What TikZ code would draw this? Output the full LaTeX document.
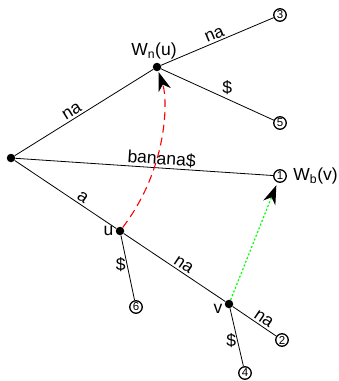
\documentclass[tikz,border=0pt]{standalone}
\usepackage{fontspec}
\setmainfont{Liberation Sans}
\usetikzlibrary{arrows.meta}
\begin{document}
\begin{tikzpicture}[x=1pt,y=-1pt,
  inner/.style={circle,fill=black,inner sep=0pt,minimum size=8.5pt},
  leaf/.style={circle,draw,line width=1.3pt,inner sep=0pt,minimum size=12.5pt,font=\fontsize{11.5}{11.5}\selectfont},
  edge/.style={line width=0.8pt},
  lbl/.style={font=\fontsize{17.5}{18}\selectfont},
  elbl/.style={lbl,sloped,above,inner sep=2pt},
  arrowtip/.style={-{Stealth[black,length=19pt,width=13pt,inset=6pt]}}]
\useasboundingbox (0,0) rectangle (339,381);
\node[inner] (r) at (11,158) {};
\node[inner] (w) at (157,67) {};
\node[inner] (u) at (120,231) {};
\node[inner] (v) at (229,304) {};
\node[leaf] (l3) at (280,15) {3};
\node[leaf] (l5) at (280,123) {5};
\node[leaf] (l1) at (280,176) {1};
\node[leaf] (l6) at (136,307) {6};
\node[leaf] (l2) at (282,340) {2};
\node[leaf] (l4) at (245,373) {4};
\draw[edge] (r) -- node[elbl,pos=0.44] {na} (w);
\draw[edge] (w) -- node[elbl,pos=0.5] {na} (l3);
\draw[edge] (w) -- node[lbl,above,pos=0.56,inner sep=2pt,xshift=3pt] {\$} (l5);
\draw[edge] (r) -- node[elbl,pos=0.565] {banana\$} (l1);
\draw[edge] (r) -- node[elbl,pos=0.63] {a} (u);
\draw[edge] (u) -- node[elbl,pos=0.55] {na} (v);
\draw[edge] (v) -- node[elbl,pos=0.62] {na} (l2);
\draw[edge] (u) -- node[lbl,left,pos=0.45,inner sep=1pt] {\$} (l6);
\draw[edge] (v) -- node[lbl,left,pos=0.55,inner sep=1pt] {\$} (l4);
\node[lbl,above=4pt,xshift=-3pt] (wl) at (w) {W\textsubscript{n}(u)};
\node[lbl,right=3pt] (bl) at (l1.east) {W\textsubscript{b}(v)};
\node[lbl,left=3pt] (ul) at (u) {u};
\node[lbl,left=3pt,yshift=-5pt] (vl) at (v) {v};
\draw[line width=1.1pt,red,dash pattern=on 8pt off 5pt,arrowtip,shorten >=1pt]
  (u) .. controls (168,168) and (168,100) .. (w);
\draw[line width=1.2pt,green,dash pattern=on 2pt off 2pt,arrowtip,shorten >=3pt] (v) -- (l1);
\end{tikzpicture}
\end{document}
